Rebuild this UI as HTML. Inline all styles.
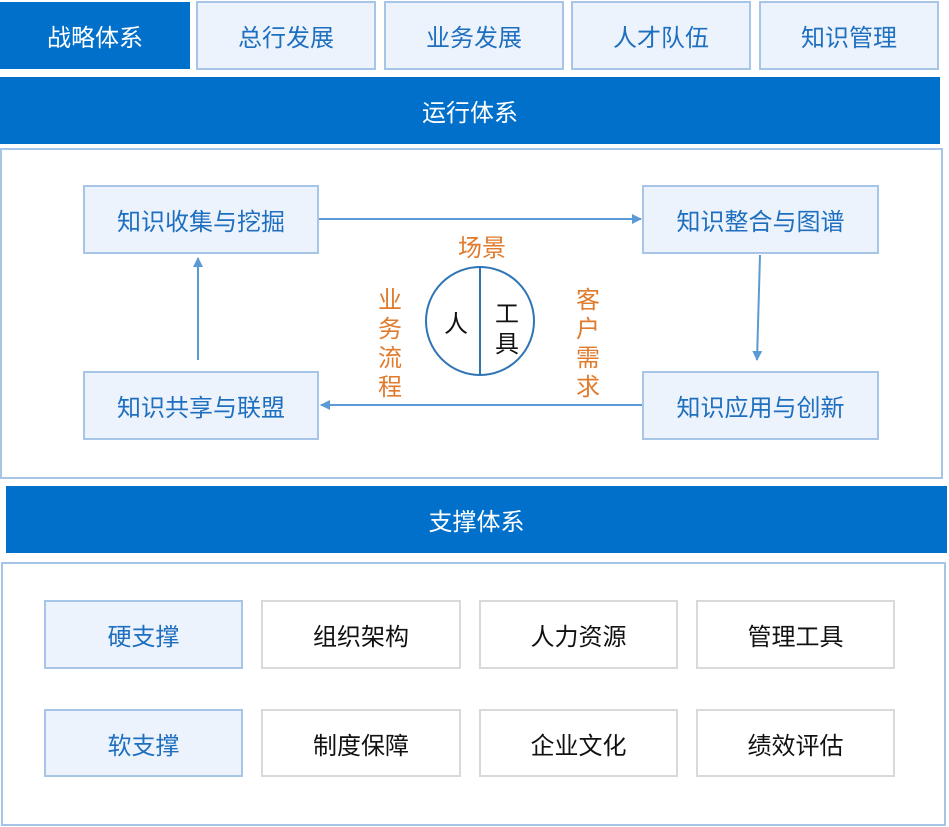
<!DOCTYPE html>
<html><head><meta charset="utf-8"><style>
body{margin:0;width:949px;height:827px;background:#fff;position:relative;overflow:hidden;font-family:"Liberation Sans","Noto Sans CJK SC",sans-serif}
.b{position:absolute;box-sizing:border-box;display:flex;align-items:center;justify-content:center;font-size:24px}
.lt{background:#EDF3FC;border:2px solid #A7C5E6;color:#1E6FBF}
.dk{background:#0070CA;color:#fff}
.wh{background:#fff;border:2px solid #D9D9D9;color:#111}
.pn{position:absolute;box-sizing:border-box;border:2px solid #A7C5E6;background:#fff}
.or{position:absolute;color:#E07A2C;font-size:24px;line-height:29px;text-align:center}
</style></head><body>
<div class="b dk" style="left:0;top:2px;width:190px;height:67px">战略体系</div>
<div class="b lt" style="left:196px;top:1px;width:180px;height:69px">总行发展</div>
<div class="b lt" style="left:384px;top:1px;width:180px;height:69px">业务发展</div>
<div class="b lt" style="left:571px;top:1px;width:180px;height:69px">人才队伍</div>
<div class="b lt" style="left:759px;top:1px;width:180px;height:69px">知识管理</div>
<div class="b dk" style="left:0;top:77px;width:940px;height:67px">运行体系</div>
<div class="pn" style="left:0;top:148px;width:943px;height:331px"></div>
<div class="b lt" style="left:83px;top:185px;width:236px;height:69px">知识收集与挖掘</div>
<div class="b lt" style="left:642px;top:185px;width:237px;height:69px">知识整合与图谱</div>
<div class="b lt" style="left:83px;top:371px;width:236px;height:69px">知识共享与联盟</div>
<div class="b lt" style="left:642px;top:371px;width:237px;height:69px">知识应用与创新</div>
<svg style="position:absolute;left:0;top:0" width="949" height="827">
<defs><marker id="a" markerWidth="10" markerHeight="10" refX="9" refY="5" orient="auto" markerUnits="userSpaceOnUse"><path d="M0,0 L10,5 L0,10z" fill="#5B9BD5"/></marker></defs>
<g stroke="#5B9BD5" stroke-width="2" fill="none">
<line x1="319" y1="219" x2="641" y2="219" marker-end="url(#a)"/>
<line x1="760" y1="255" x2="757" y2="360" marker-end="url(#a)"/>
<line x1="642" y1="405" x2="321" y2="405" marker-end="url(#a)"/>
<line x1="198" y1="360" x2="198" y2="258" marker-end="url(#a)"/>
</g>
<g stroke="#2E75B6" stroke-width="2" fill="none">
<circle cx="480" cy="321" r="54"/>
<line x1="480" y1="267" x2="480" y2="375"/>
</g>
<text x="456" y="332" font-size="24" text-anchor="middle" fill="#111" font-family="Noto Sans CJK SC,sans-serif">人</text>
<text x="507" y="322" font-size="24" text-anchor="middle" fill="#111" font-family="Noto Sans CJK SC,sans-serif">工</text>
<text x="507" y="352" font-size="24" text-anchor="middle" fill="#111" font-family="Noto Sans CJK SC,sans-serif">具</text>
</svg>
<div class="or" style="left:446px;top:234px;width:72px">场景</div>
<div class="or" style="left:375px;top:286px;width:30px">业<br>务<br>流<br>程</div>
<div class="or" style="left:573px;top:286px;width:30px">客<br>户<br>需<br>求</div>
<div class="b dk" style="left:6px;top:486px;width:941px;height:67px">支撑体系</div>
<div class="pn" style="left:1px;top:562px;width:945px;height:264px"></div>
<div class="b lt" style="left:44px;top:600px;width:199px;height:69px">硬支撑</div>
<div class="b wh" style="left:261px;top:600px;width:200px;height:69px">组织架构</div>
<div class="b wh" style="left:479px;top:600px;width:199px;height:69px">人力资源</div>
<div class="b wh" style="left:696px;top:600px;width:199px;height:69px">管理工具</div>
<div class="b lt" style="left:44px;top:709px;width:199px;height:68px">软支撑</div>
<div class="b wh" style="left:261px;top:709px;width:200px;height:68px">制度保障</div>
<div class="b wh" style="left:479px;top:709px;width:199px;height:68px">企业文化</div>
<div class="b wh" style="left:696px;top:709px;width:199px;height:68px">绩效评估</div>
</body></html>
